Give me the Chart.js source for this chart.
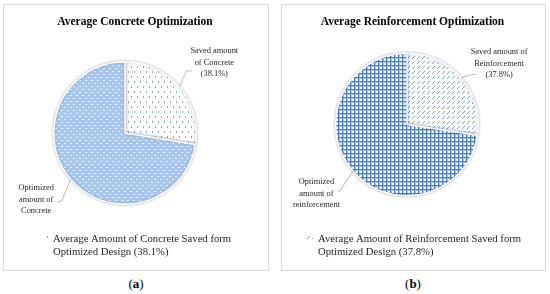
<!DOCTYPE html>
<html>
<head>
<meta charset="utf-8">
<script src="https://cdn.jsdelivr.net/npm/chart.js@4.4.1/dist/chart.umd.min.js"></script>
<style>
  body { margin: 0; background: #fff; width: 550px; height: 294px; position: relative; overflow: hidden; }
  .box { position: absolute; border: 1px solid #d9d9d9; }
  .box canvas { display: block; }
  .cap { position: absolute; font: 13px "Liberation Serif", serif; color: #000; transform: translate(-50%, -50%); }
</style>
</head>
<body>
<div class="box" style="left:3px; top:4px; width:264px; height:265px;"><canvas id="concreteChart" width="264" height="265"></canvas></div>
<div class="box" style="left:281px; top:4px; width:263px; height:265px;"><canvas id="rebarChart" width="263" height="265"></canvas></div>
<div class="cap" style="left:136px; top:284px;">(<b>a</b>)</div>
<div class="cap" style="left:413px; top:284px;">(<b>b</b>)</div>

<script>
// dati
const concreteTitle = 'Average Concrete Optimization';
const concreteCategories = ['Saved amount of Concrete', 'Optimized amount of Concrete'];
const concreteValues = [38.1, 100];
const concreteCallouts = [['Saved amount', 'of Concrete', '(38.1%)'], ['Optimized', 'amount of', 'Concrete']];
const concreteLegend = ['Average Amount of Concrete Saved form', 'Optimized Design (38.1%)'];

const rebarTitle = 'Average Reinforcement Optimization';
const rebarCategories = ['Saved amount of Reinforcement', 'Optimized amount of reinforcement'];
const rebarValues = [37.8, 100];
const rebarCallouts = [['Saved amount of', 'Reinforcement', '(37.8%)'], ['Optimized', 'amount of', 'reinforcement']];
const rebarLegend = ['Average Amount of Reinforcement Saved form', 'Optimized Design (37.8%)'];

// pattern di riempimento
function makePattern(w, h, draw) {
    const c = document.createElement('canvas');
    c.width = w; c.height = h;
    const g = c.getContext('2d');
    draw(g);
    return g.createPattern(c, 'repeat');
}

const dotsBlue = makePattern(6, 6, g => {
    g.fillStyle = '#9fbde4';
    g.fillRect(0, 0, 6, 6);
    g.fillStyle = '#b9cfee';
    for (let x = 0; x < 6; x++) for (let y = 0; y < 6; y++) if ((x + y) % 2 === 0) g.fillRect(x, y, 1, 1);
    g.fillStyle = '#ffffff';
    g.fillRect(0, 0, 1, 1);
    g.fillRect(3, 3, 1, 1);
    g.fillStyle = '#e2ebf8';
    g.fillRect(1, 0, 1, 1);
    g.fillRect(4, 3, 1, 1);
});
const dotsWhite = makePattern(6, 10, g => {
    g.fillStyle = '#ffffff';
    g.fillRect(0, 0, 6, 10);
    g.fillStyle = '#7fa6dc';
    g.fillRect(1, 1, 1, 2);
    g.fillRect(4, 6, 1, 2);
});
const gridBlue = makePattern(4, 4, g => {
    g.fillStyle = '#ffffff';
    g.fillRect(0, 0, 4, 4);
    g.fillStyle = '#b3cbeb';
    g.fillRect(0, 1, 4, 1);
    g.fillRect(1, 0, 1, 4);
    g.fillStyle = '#4a7ec9';
    g.fillRect(0, 0, 4, 1);
    g.fillRect(0, 0, 1, 4);
});
const dashWhite = makePattern(5, 5, g => {
    g.fillStyle = '#ffffff';
    g.fillRect(0, 0, 5, 5);
    g.fillStyle = '#7ba3dc';
    g.fillRect(0, 3, 1, 1);
    g.fillRect(1, 2, 1, 1);
    g.fillRect(2, 1, 1, 1);
});

// plugin per titolo, etichette con linee guida e legenda
const panelText = {
    id: 'panelText',
    beforeDatasetsDraw(chart) {
        const ctx = chart.ctx;
        ctx.save();
        ctx.shadowColor = 'rgba(0,0,0,0.28)';
        ctx.shadowBlur = 3;
    },
    afterDatasetsDraw(chart, args, opts) {
        const ctx = chart.ctx;
        ctx.restore();
        const arcs = chart.getDatasetMeta(0).data;
        ctx.save();
        ctx.fillStyle = '#000';
        ctx.textAlign = 'center';
        ctx.textBaseline = 'middle';
        ctx.font = 'bold 11.5px "Liberation Serif"';
        ctx.fillText(opts.title, opts.titleX, opts.titleY);

        ctx.font = '8.4px "Liberation Serif"';
        opts.callouts.forEach((c, i) => {
            const a = arcs[i];
            const mid = (a.startAngle + a.endAngle) / 2;
            const ex = a.x + Math.cos(mid) * a.outerRadius;
            const ey = a.y + Math.sin(mid) * a.outerRadius;
            ctx.strokeStyle = '#a6a6a6';
            ctx.lineWidth = 0.8;
            ctx.beginPath();
            ctx.moveTo(ex, ey);
            ctx.lineTo(ex + c.elbow[0], ey + c.elbow[1]);
            ctx.lineTo(ex + c.end[0], ey + c.end[1]);
            ctx.stroke();
            ctx.fillStyle = '#262626';
            opts.lines[i].forEach((t, k) => {
                ctx.fillText(t, ex + c.text[0], ey + c.text[1] + k * 11.5);
            });
        });

        // legenda
        const lg = opts.legend;
        ctx.fillStyle = opts.legendFill;
        ctx.fillRect(lg.mx - 3, lg.my - 3, 6, 6);
        ctx.fillStyle = '#262626';
        ctx.textAlign = 'left';
        ctx.font = '10.7px "Liberation Serif"';
        opts.legendText.forEach((t, k) => {
            ctx.fillText(t, lg.x, lg.y + k * 13);
        });
        ctx.restore();
    }
};

function creaTorta(id, labels, values, fills, padding, textOpts) {
    const ctx = document.getElementById(id).getContext('2d');
    return new Chart(ctx, {
        type: 'pie',
        data: {
            labels: labels,
            datasets: [{
                data: values,
                backgroundColor: fills,
                borderColor: '#ffffff',
                borderWidth: 1.5,
                hoverOffset: 0,
                offset: 0
            }]
        },
        options: {
            responsive: false,
            animation: false,
            devicePixelRatio: 1,
            layout: { padding: padding },
            plugins: {
                legend: { display: false },
                tooltip: { enabled: false },
                title: { display: false },
                panelText: textOpts
            }
        },
        plugins: [panelText]
    });
}

creaTorta('concreteChart', concreteCategories, concreteValues, [dotsWhite, dotsBlue],
    { left: 49, right: 71, top: 56, bottom: 65 },
    {
        title: concreteTitle, titleX: 131, titleY: 17,
        lines: concreteCallouts,
        callouts: [
            { elbow: [7, -16], end: [13, -16], text: [35, -36] },
            { elbow: [-9, 22], end: [-13, 23], text: [-34.5, 9] }
        ],
        legend: { mx: 43, my: 233, x: 49, y: 234 },
        legendFill: dotsWhite,
        legendText: concreteLegend
    });

creaTorta('rebarChart', rebarCategories, rebarValues, [dashWhite, gridBlue],
    { left: 53, right: 66, top: 47.5, bottom: 73.5 },
    {
        title: rebarTitle, titleX: 130.5, titleY: 17,
        lines: rebarCallouts,
        callouts: [
            { elbow: [8, -3], end: [15, -4], text: [38, -26] },
            { elbow: [-13, 20], end: [-15, 21], text: [-36.5, 11] }
        ],
        legend: { mx: 28, my: 232, x: 36, y: 234 },
        legendFill: dashWhite,
        legendText: rebarLegend
    });
</script>
</body>
</html>
